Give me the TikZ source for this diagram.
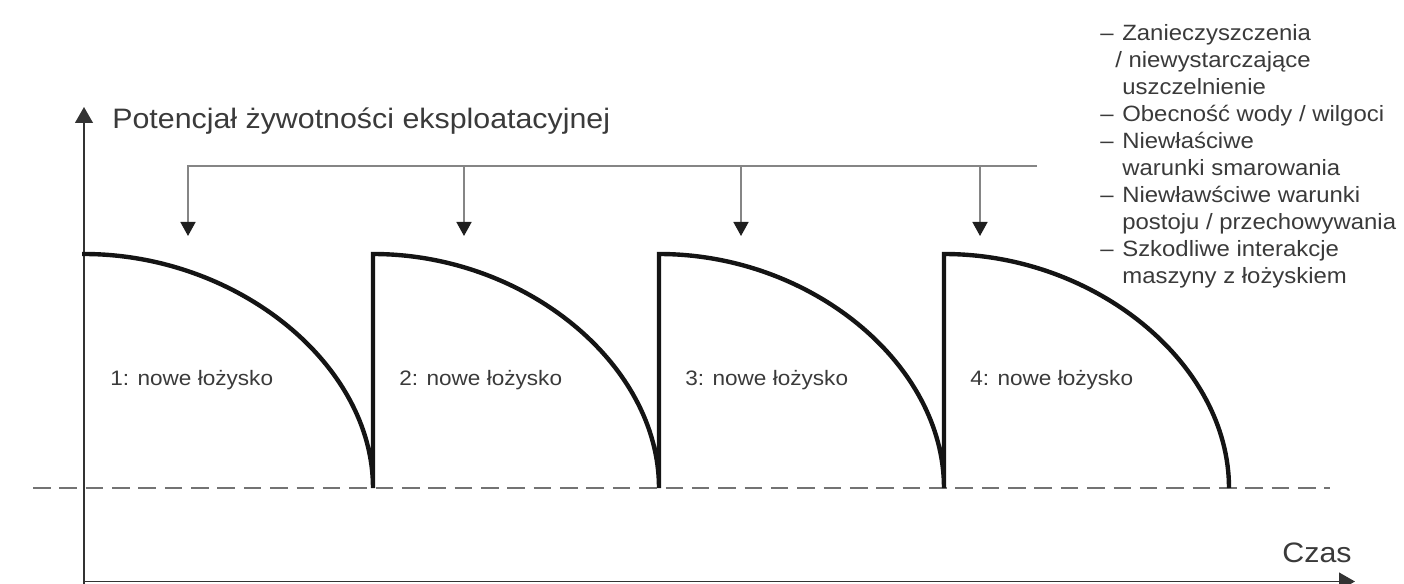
\documentclass[tikz,border=0pt]{standalone}
\usepackage{fontspec}
\setmainfont{Liberation Sans}[FakeStretch=1.08]
\usetikzlibrary{arrows.meta}
\definecolor{ink}{HTML}{3A3A3A}
\newcommand\punkt{\llap{–\hspace{5pt}}}
\tikzset{
  x=0.02cm, y=0.02cm,
  >={Triangle[length=9pt, width=10pt]},
  axis/.style={draw=black!80, line width=1.1pt, ->},
  loss/.style={draw=black!55, line width=1.6pt, dash pattern=on 10pt off 5pt},
  life/.style={draw=black!92, line width=2.5pt, line join=miter},
  cause/.style={draw=black!48, line width=1.1pt},
  hit/.style={cause, -{Triangle[length=8pt, width=8.5pt, black!88]}},
  every node/.style={text=ink, inner sep=0pt},
  big text/.style={font=\fontsize{16}{19}\selectfont},
  small text/.style={font=\fontsize{12.6}{15}\selectfont},
  bearing/.style={font=\fontsize{11.9}{14}\selectfont, anchor=base west},
}

\begin{document}
\begin{tikzpicture}
		\useasboundingbox (0,0) rectangle (1404,583);

		% axes
		\coordinate (origin) at (84,1.5);
		\coordinate (ytip) at (84,476);
		\coordinate (xtip) at (1355,1.5);
		\draw[axis] (84,-5) -- (ytip);
		\draw[axis] (origin) -- (xtip);
		\node[big text, anchor=base west] (ylab) at (112,455) {Potencjał żywotności eksploatacyjnej};
		\node[big text, anchor=base east] (xlab) at (1352,21) {Czas};

		% end of life
		\coordinate (loss-l) at (33,95);
		\coordinate (loss-r) at (1330,95);
		\draw[loss] (loss-l) -- (loss-r);

		% bearings
		\draw[life] (82,329) -- (84,329)
		.. controls (237,329) and (373,219) .. (373,95) -- (373,329)
		.. controls (525,329) and (659,219) .. (659,95) -- (659,329)
		.. controls (811,329) and (944,219) .. (944,95) -- (944,329)
		.. controls (1096,329) and (1229,219) .. (1229,95);
		\node[bearing] (n1) at (110,198) {1: nowe łożysko};
		\node[bearing] (n2) at (399,198) {2: nowe łożysko};
		\node[bearing] (n3) at (685,198) {3: nowe łożysko};
		\node[bearing] (n4) at (970,198) {4: nowe łożysko};

		% causes
		\coordinate (bar) at (1037,417);
		\coordinate (b1) at (188,417);
		\coordinate (b2) at (464,417);
		\coordinate (b3) at (741,417);
		\coordinate (b4) at (980,417);
		\coordinate (t1) at (188,347);
		\coordinate (t2) at (464,347);
		\coordinate (t3) at (741,347);
		\coordinate (t4) at (980,347);
		\draw[hit] (bar) -- (b1) -- (t1);
		\draw[hit] (b2) -- (t2);
		\draw[hit] (b3) -- (t3);
		\draw[hit] (b4) -- (t4);

		\foreach \txt [count=\i from 0] in {\punkt Zanieczyszczenia, \kern-4pt/ niewystarczające, uszczelnienie, \punkt Obecność wody / wilgoci, \punkt Niewłaściwe, warunki smarowania, \punkt Niewławściwe warunki, postoju / przechowywania, \punkt Szkodliwe interakcje, maszyny z łożyskiem}
			\node[small text, anchor=base west] (c\i) at (1122,{543-27*\i}) {\txt};

	\end{tikzpicture}
\end{document}
